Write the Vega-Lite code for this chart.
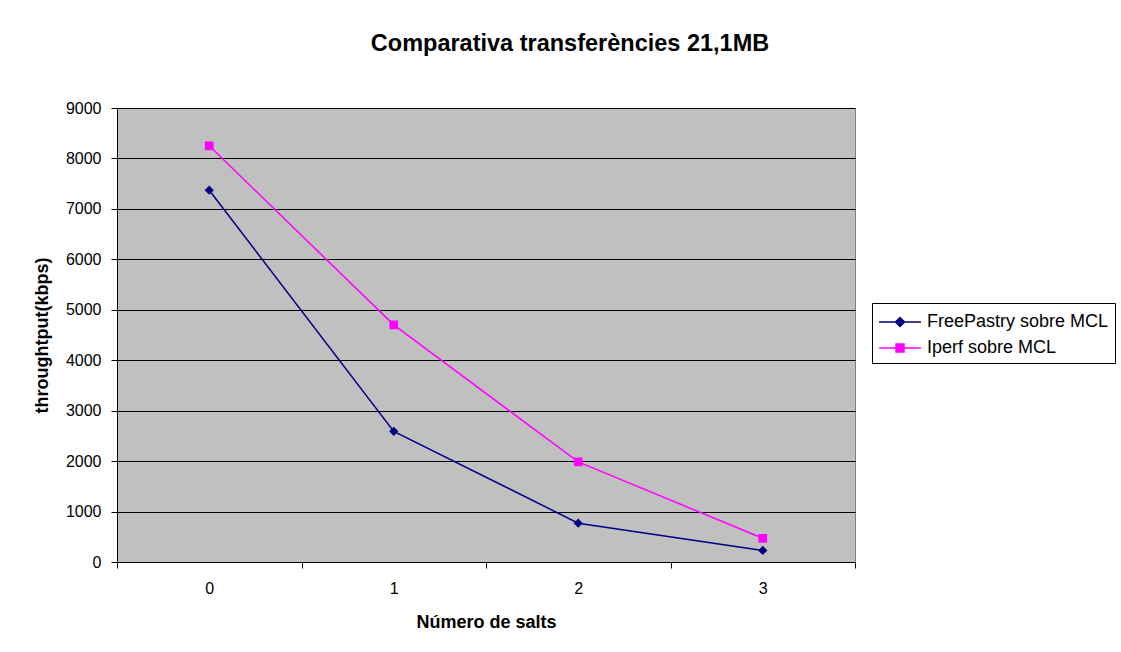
{
  "$schema": "https://vega.github.io/schema/vega-lite/v6.json",
  "width": 738,
  "height": 454,
  "autosize": {"type": "none"},
  "padding": {"left": 117, "top": 108, "right": 266, "bottom": 90},
  "background": "white",
  "data": {
    "values": [
      {"salts": "0", "serie": "FreePastry sobre MCL", "kbps": 7370},
      {"salts": "1", "serie": "FreePastry sobre MCL", "kbps": 2590},
      {"salts": "2", "serie": "FreePastry sobre MCL", "kbps": 770},
      {"salts": "3", "serie": "FreePastry sobre MCL", "kbps": 230},
      {"salts": "0", "serie": "Iperf sobre MCL", "kbps": 8250},
      {"salts": "1", "serie": "Iperf sobre MCL", "kbps": 4700},
      {"salts": "2", "serie": "Iperf sobre MCL", "kbps": 1985},
      {"salts": "3", "serie": "Iperf sobre MCL", "kbps": 470}
    ]
  },
  "title": {
    "text": "Comparativa transferències 21,1MB",
    "font": "Liberation Sans",
    "fontSize": 23.5,
    "fontWeight": "bold",
    "color": "black",
    "anchor": "middle",
    "dx": 84,
    "offset": 45
  },
  "config": {
    "view": {"fill": "#C0C0C0", "stroke": "#808080", "strokeWidth": 1},
    "axis": {
      "labelFont": "Liberation Sans",
      "labelFontSize": 16,
      "labelColor": "black",
      "titleFont": "Liberation Sans",
      "titleFontSize": 18,
      "titleFontWeight": "bold",
      "titleColor": "black",
      "domainColor": "black",
      "tickColor": "black",
      "tickSize": 6
    }
  },
  "encoding": {
    "x": {
      "field": "salts",
      "type": "ordinal",
      "scale": {"type": "band", "paddingInner": 0, "paddingOuter": 0},
      "axis": {
        "title": "Número de salts",
        "labelAngle": 0,
        "tickBand": "extent",
        "grid": false,
        "labelPadding": 12,
        "titlePadding": 17
      }
    },
    "y": {
      "field": "kbps",
      "type": "quantitative",
      "scale": {"domain": [0, 9000], "nice": false},
      "axis": {
        "title": "throughtput(kbps)",
        "values": [0, 1000, 2000, 3000, 4000, 5000, 6000, 7000, 8000, 9000],
        "format": "d",
        "grid": true,
        "gridColor": "black",
        "gridOpacity": 1,
        "gridWidth": 1,
        "labelPadding": 10,
        "titlePadding": 14
      }
    },
    "color": {
      "field": "serie",
      "type": "nominal",
      "scale": {"domain": ["FreePastry sobre MCL", "Iperf sobre MCL"], "range": ["#000080", "#FF00FF"]},
      "legend": {
        "title": null,
        "orient": "none",
        "legendX": 755,
        "legendY": 195,
        "strokeColor": "black",
        "fillColor": "white",
        "padding": 6,
        "labelFont": "Liberation Sans",
        "labelFontSize": 18,
        "labelColor": "black",
        "labelLimit": 400,
        "symbolSize": 576,
        "symbolStrokeWidth": 1.5,
        "rowPadding": 4,
        "labelOffset": 23,
        "encode": {
          "symbols": {
            "update": {
              "shape": {"signal": "datum.value === 'FreePastry sobre MCL' ? 'M-1,0L2.5,0M0.75,-0.375L1.125,0L0.75,0.375L0.375,0Z' : 'M-1,0L2.5,0M0.42,-0.33L1.08,-0.33L1.08,0.33L0.42,0.33Z'"},
              "fill": {"signal": "datum.value === 'FreePastry sobre MCL' ? '#000080' : '#FF00FF'"},
              "fillOpacity": {"value": 1}
            }
          }
        }
      }
    }
  },
  "layer": [
    {"mark": {"type": "line", "strokeWidth": 1.5}},
    {
      "transform": [{"filter": "datum.serie === 'FreePastry sobre MCL'"}],
      "mark": {"type": "point", "filled": true, "opacity": 1, "shape": "diamond", "size": 85}
    },
    {
      "transform": [{"filter": "datum.serie === 'Iperf sobre MCL'"}],
      "mark": {"type": "point", "filled": true, "opacity": 1, "shape": "square", "size": 75}
    }
  ]
}
